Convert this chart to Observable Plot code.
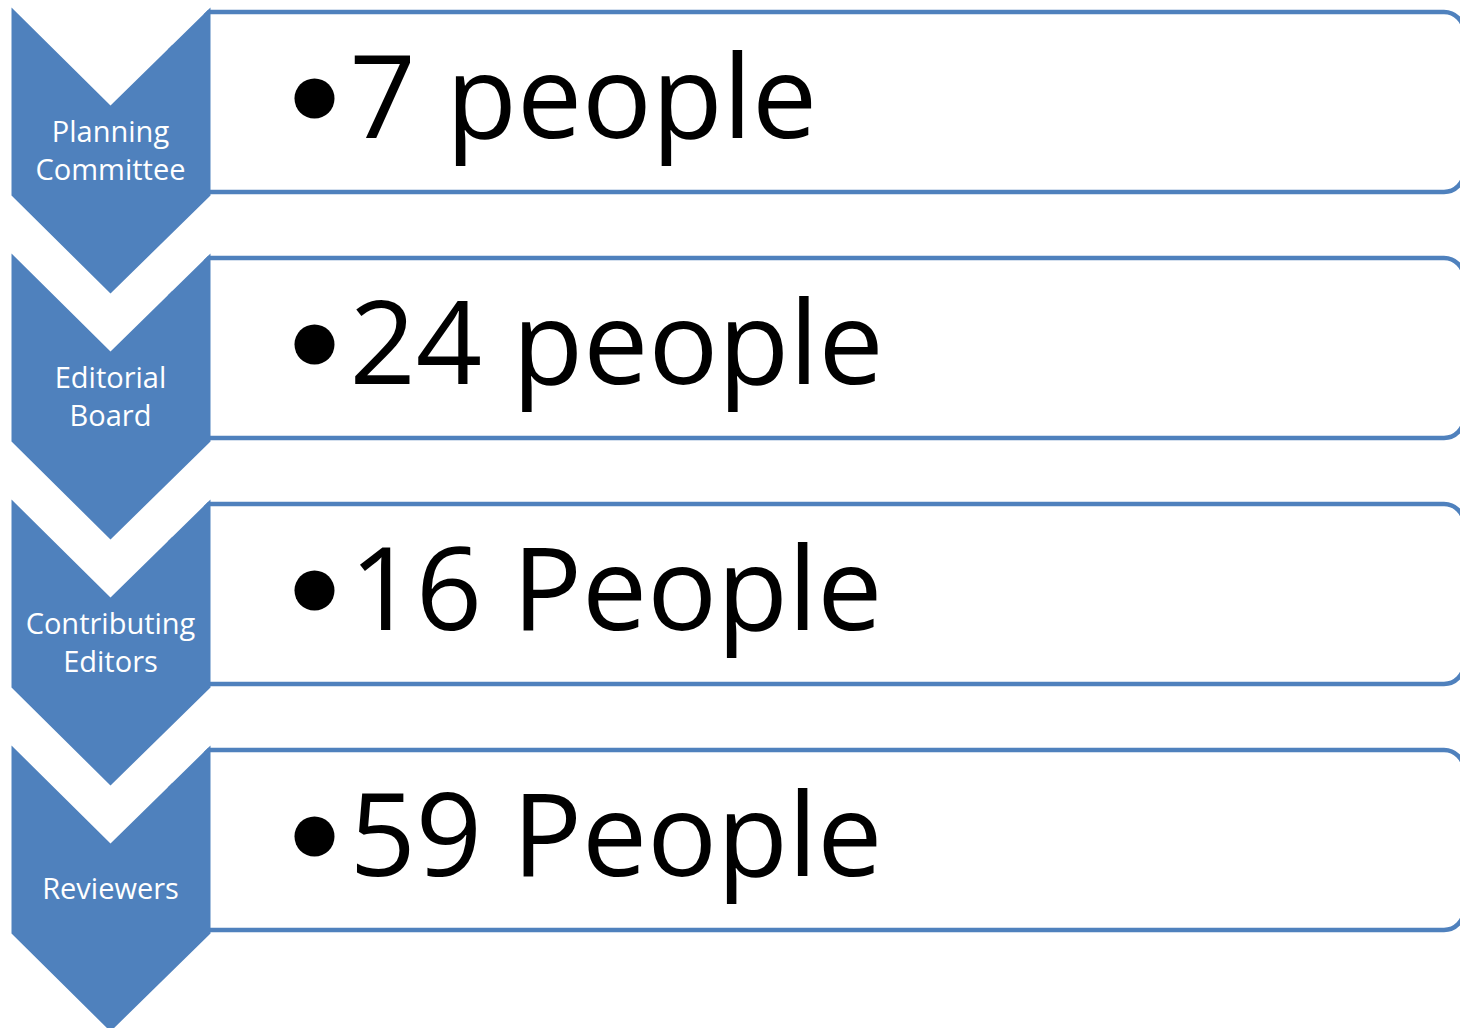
<!DOCTYPE html>
<html><head><meta charset="utf-8">
<script src="https://cdn.jsdelivr.net/npm/d3@7"></script>
<script src="https://cdn.jsdelivr.net/npm/@observablehq/plot@0.6"></script>
<style>html,body{margin:0;padding:0;background:#fff;} #chart svg{display:block;}</style>
</head><body><div id="chart"></div>
<script>
// Data
const categories = ["Planning\nCommittee", "Editorial\nBoard", "Contributing\nEditors", "Reviewers"];
const counts = [7, 24, 16, 59];
const units = ["people", "people", "People", "People"];

// Layout
const W = 1460, H = 1028, STEP = 246, TOP0 = 7;
const BLUE = "#4F81BD";
const rows = categories.map((c, i) => ({i, label: c, count: counts[i], unit: units[i], top: TOP0 + STEP * i}));
const chevronShape = [[11, 0], [110, 98], [210, 0], [210, 188], [110, 286], [11, 188]];
const maskShape = [[11, -12], [210, -12], [210, 0], [110, 98], [11, 0]];
const chevronPts = rows.flatMap(r => chevronShape.map(([x, dy]) => ({i: r.i, x, y: r.top + dy})));
const maskPts = rows.flatMap(r => maskShape.map(([x, dy]) => ({i: r.i, x, y: r.top + dy})));

const chart = Plot.plot({
  width: W, height: H, margin: 0,
  x: {domain: [0, W], range: [0, W], axis: null},
  y: {domain: [0, H], range: [0, H], axis: null},
  style: {background: "white"},
  marks: [
    Plot.rect(rows, {x1: () => 170, x2: () => 1464, y1: d => d.top + 5, y2: d => d.top + 185, rx: 20, fill: "white", stroke: BLUE, strokeWidth: 4.5}),
    Plot.line(maskPts, {x: "x", y: "y", z: "i", fill: "white", stroke: "none"}),
    Plot.line(chevronPts, {x: "x", y: "y", z: "i", fill: BLUE, stroke: "none"}),
    Plot.dot(rows, {x: () => 314, y: d => d.top + 91, r: 20, fill: "black", stroke: "none"}),
    Plot.text(rows, {x: () => 349, y: d => d.top + 130, text: d => `${d.count} ${d.unit}`, textAnchor: "start", lineAnchor: "bottom", fontSize: 116, fontFamily: "Open Sans", fill: "black"}),
    Plot.text(rows, {x: () => 110, y: d => d.top + 141, text: "label", fill: "white", fontSize: 29, lineHeight: 1.31, fontFamily: "Open Sans"})
  ]
});
document.getElementById("chart").appendChild(chart);
</script>
</body></html>
